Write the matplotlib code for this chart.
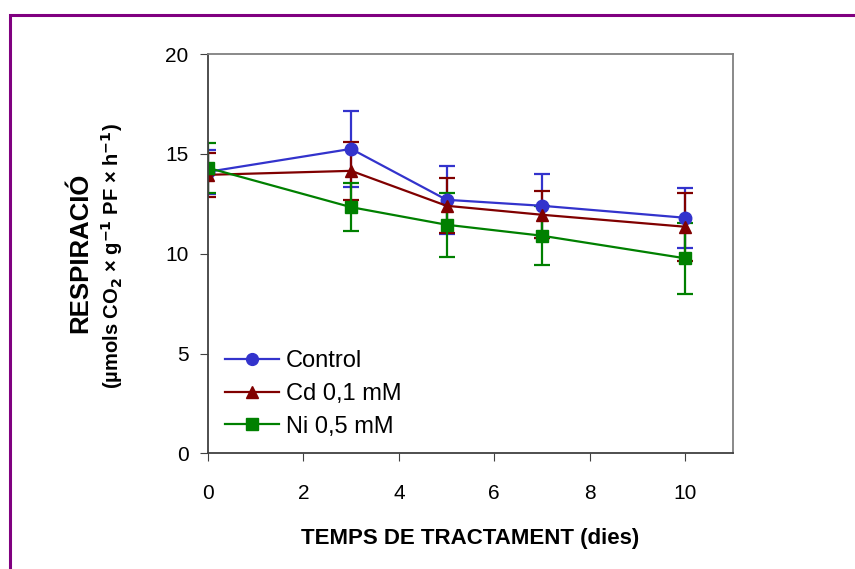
import matplotlib
matplotlib.use("Agg")
import matplotlib.pyplot as plt
from matplotlib.patches import Rectangle
from matplotlib.lines import Line2D

plt.rcParams['font.family'] = ['Liberation Sans', 'DejaVu Sans']

# Days of treatment
dies = [0, 3, 5, 7, 10]

# Respiration values and error bars
control = [14.1, 15.25, 12.7, 12.4, 11.8]
control_err = [1.1, 1.9, 1.7, 1.6, 1.5]

cd = [13.95, 14.15, 12.4, 11.95, 11.35]
cd_err = [1.1, 1.45, 1.37, 1.17, 1.7]

ni = [14.3, 12.33, 11.45, 10.9, 9.77]
ni_err = [1.25, 1.2, 1.6, 1.47, 1.78]

series = [
    ("Control", control, control_err, "#3333CC", "o"),
    ("Cd 0,1 mM", cd, cd_err, "#800000", "^"),
    ("Ni 0,5 mM", ni, ni_err, "#008000", "s"),
]

fig = plt.figure(figsize=(8.55, 5.69), dpi=100)
ax = fig.add_axes([0.2433, 0.2033, 0.6137, 0.7017])

handles = []
for label, vals, err, col, mk in series:
    ax.errorbar(dies, vals, yerr=err, color=col, marker=mk, markersize=9,
                linewidth=1.6, elinewidth=1.6, capsize=5.5, capthick=1.6)
    handles.append(Line2D([], [], color=col, marker=mk, markersize=8.5,
                          linewidth=1.6, label=label))

ax.set_xlim(0, 11)
ax.set_ylim(0, 20)
ax.set_xticks([0, 2, 4, 6, 8, 10])
ax.set_yticks([0, 5, 10, 15, 20])
ax.tick_params(axis='both', labelsize=15, direction='out', length=6,
               color='#404040')
ax.tick_params(axis='x', pad=16)
ax.tick_params(axis='y', pad=8)

for side in ['left', 'bottom']:
    ax.spines[side].set_color('#404040')
    ax.spines[side].set_linewidth(1.3)
for side in ['top', 'right']:
    ax.spines[side].set_color('#808080')
    ax.spines[side].set_linewidth(1.3)

ax.set_xlabel("TEMPS DE TRACTAMENT (dies)", fontsize=16, fontweight='bold',
              labelpad=18)

fig.text(0.094, 0.555, "RESPIRACIÓ", rotation=90, fontsize=18.5,
         fontweight='bold', ha='center', va='center')
fig.text(0.131, 0.55, r"(µmols CO$_{\mathbf{2}}$ × g$^{\mathbf{-1}}$ PF × h$^{\mathbf{-1}}$)",
         rotation=90, fontsize=14.5, fontweight='bold', ha='center', va='center')

leg = ax.legend(handles=handles, loc='lower left', bbox_to_anchor=(0.0, -0.002),
                frameon=False, fontsize=17, handlelength=2.3, handletextpad=0.3,
                labelspacing=0.45, borderaxespad=0.3)

# purple frame around the chart area (top and left edges visible)
fig.patches.append(Rectangle((10 / 855, -0.1), 1.2, 1 - 15 / 569 + 0.1,
                             transform=fig.transFigure, fill=False,
                             edgecolor='#800080', linewidth=2.2))

fig.savefig("out.png", dpi=100)
